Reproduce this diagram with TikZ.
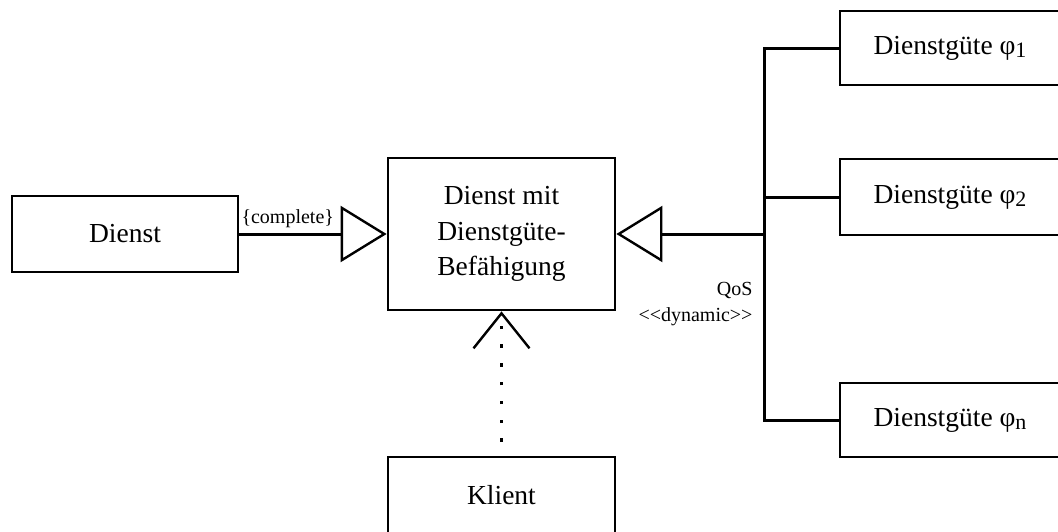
\documentclass[tikz,border=0pt]{standalone}
\usepackage{fontspec}
\setmainfont{Liberation Serif}
\usetikzlibrary{arrows.meta}
\newcommand{\qsub}[1]{{\fontsize{22}{22}\selectfont\raisebox{-3.5pt}{#1}}}
\begin{document}
\begin{tikzpicture}[x=1pt,y=-1pt,line width=3pt,
  box/.style={draw,line width=2.8pt,fill=white,inner sep=0pt,align=center,
    font=\fontsize{27.5}{35.5}\selectfont},
  gen/.style={-{Triangle[open,length=46pt,width=56pt,line width=2.4pt]}},
  dep/.style={line width=3.5pt,dash pattern=on 3.5pt off 15.3pt,dash phase=5pt,
    -{Straight Barb[length=35pt,width=56pt,line width=2.4pt]}},
  lbl/.style={font=\fontsize{20}{26}\selectfont,inner sep=0pt}]
\useasboundingbox (0,0) rectangle (1058,531);
\clip (0,0) rectangle (1058,531);
% classes
\node[box,minimum width=226pt,minimum height=76pt] (dienst) at (125,234)
  {\raisebox{-3pt}{Dienst}};
\node[box,minimum width=227pt,minimum height=152pt] (dmd) at (501.5,234)
  {Dienst mit\\Dienstgüte-\\Befähigung};
\node[box,minimum width=227pt,minimum height=76pt] (klient) at (501.5,495) {Klient};
\node[box,minimum width=220pt,minimum height=74pt] (q1) at (950,48)
  {Dienstgüte φ\qsub{1}};
\node[box,minimum width=220pt,minimum height=76pt] (q2) at (950,197)
  {Dienstgüte φ\qsub{2}};
\node[box,minimum width=220pt,minimum height=74pt] (qn) at (950,420)
  {Dienstgüte φ\qsub{n}};
% generalisations
\draw[gen] (dienst) -- (dmd);
\node[lbl,anchor=base west] (cpl) at (240,223) {\{complete\}};
\coordinate (bus) at (764,234);
\draw (q1.west) -- (q1.west -| bus) -- (qn.west -| bus) -- (qn.west);
\draw (q2.west) -- (q2.west -| bus);
\draw[gen] (bus) -- (dmd.east);
\node[lbl,anchor=north east,align=right] (qos) at (754,281) {QoS\\<{}<dynamic>{}>};
% dependency
\draw[dep] (klient.north) -- (dmd.south);
\end{tikzpicture}
\end{document}
